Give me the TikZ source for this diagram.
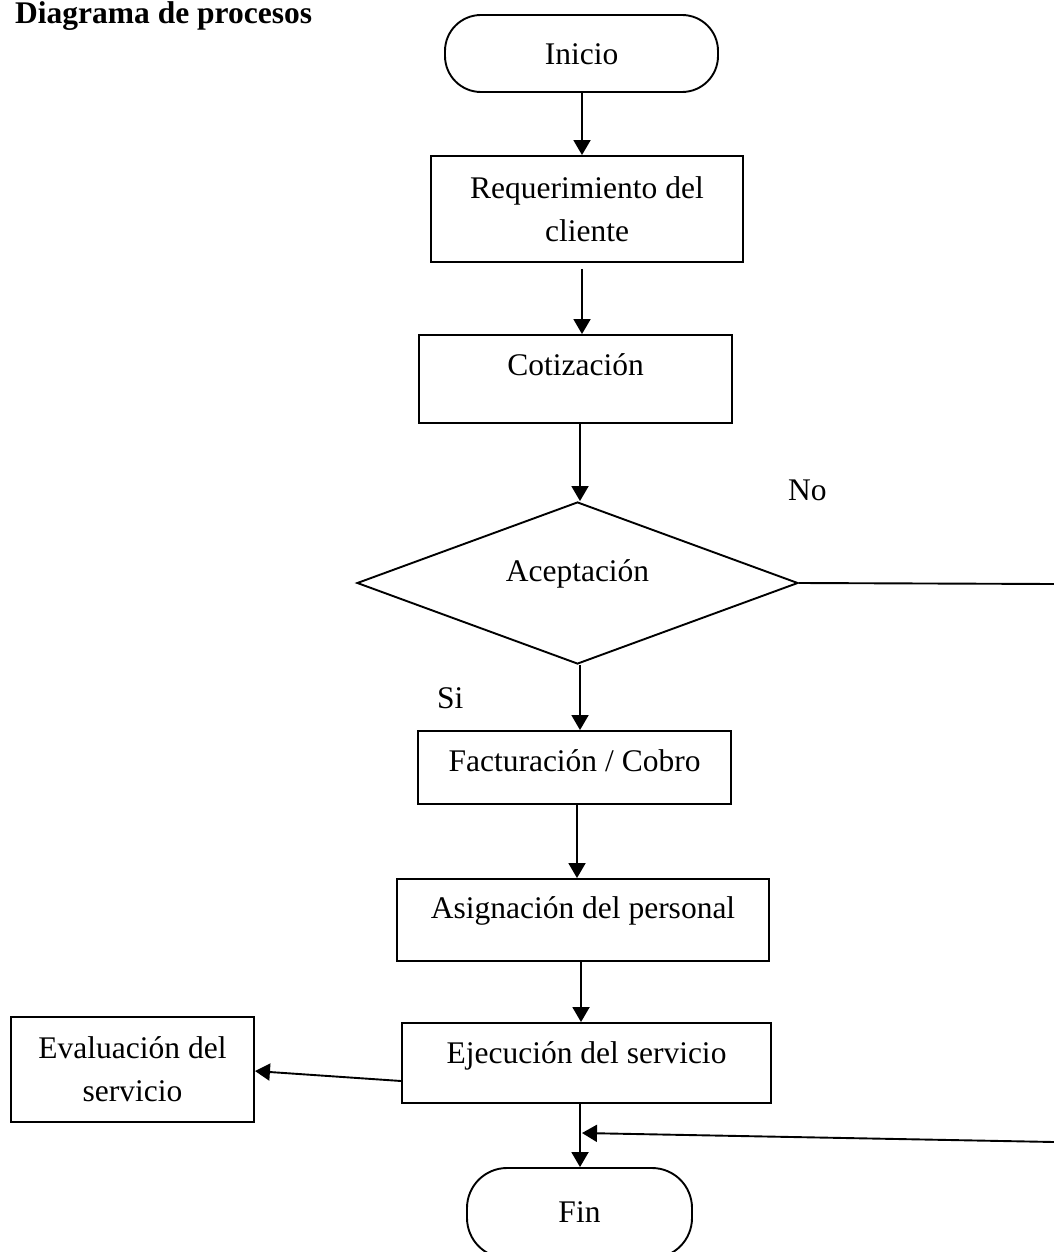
\documentclass[tikz,border=0pt]{standalone}
\usepackage{fontspec}
\setmainfont{Liberation Serif}
\usetikzlibrary{arrows.meta,shapes.geometric}
\begin{document}
\begin{tikzpicture}[x=1pt,y=-1pt,
  every node/.style={font=\fontsize{31.5}{43}\selectfont, inner sep=0pt},
  stepbox/.style={draw, line width=1.9pt, align=center},
  term/.style={draw, line width=1.9pt, rounded corners=36pt},
  decision/.style={diamond, draw, line width=1.9pt, aspect=2.7},
  arr/.style={line width=1.9pt, -{Triangle[length=15pt,width=17pt]}},
  link/.style={line width=1.9pt}]
\useasboundingbox (0,0) rectangle (1054,1252);

% title and labels
\node[font=\fontsize{31.5}{38}\selectfont\bfseries, anchor=base west] (title) at (15,24) {Diagrama de procesos};
\node[anchor=base west] (no) at (788,500) {No};
\node[anchor=base west] (si) at (437,708) {Si};

% nodes
\node[term, minimum width=273pt, text height=50pt, text depth=27pt, anchor=base] (ini) at (581.5,65) {Inicio};
\node[stepbox, minimum width=312pt, minimum height=106pt] (req) at (587,209) {Requerimiento del\\cliente};
\node[stepbox, minimum width=313pt, text height=40pt, text depth=48pt, anchor=base] (cot) at (575.5,375) {Cotización};
\node[decision, minimum width=441pt, minimum height=162pt, text height=20pt, text depth=24pt] (dia) at (577.5,583) {Aceptación};
\node[stepbox, minimum width=313pt, text height=40pt, text depth=33pt, anchor=base] (fac) at (574.5,771) {Facturación / Cobro};
\node[stepbox, minimum width=372pt, text height=39pt, text depth=43pt, anchor=base] (asi) at (583,918) {Asignación del personal};
\node[stepbox, minimum width=369pt, text height=40pt, text depth=40pt, anchor=base] (eje) at (586.5,1063) {Ejecución del servicio};
\node[stepbox, minimum width=243pt, minimum height=105pt] (eva) at (132.5,1069.5) {Evaluación del\\servicio};
\node[term, rounded corners=40pt, minimum width=225pt, text height=54pt, text depth=36pt, anchor=base] (fin) at (579.5,1222) {Fin};

% helper coordinates
\coordinate (x1) at (582,0);
\coordinate (x2) at (580,0);
\coordinate (x3) at (577,0);
\coordinate (x4) at (581,0);
\coordinate (rtop) at (1054,584);
\coordinate (rbot) at (1054,1142);
\coordinate (join) at (582,1133);

% connectors
\draw[arr] (ini.south -| x1) -- (req.north -| x1);
\draw[arr, shorten <=6pt] (req.south -| x1) -- (cot.north -| x1);
\draw[arr] (cot.south -| x2) -- (dia.north -| x2);
\draw[arr] (dia.south -| x2) -- (fac.north -| x2);
\draw[arr] (fac.south -| x3) -- (asi.north -| x3);
\draw[arr] (asi.south -| x4) -- (eje.north -| x4);
\draw[arr] (eje.south -| x2) -- (fin.north -| x2);
\draw[arr] ([yshift=-18pt]eje.west) -- ([yshift=-1.5pt]eva.east);
\draw[link] (dia.east) -- (rtop);
\draw[arr] (rbot) -- (join);
\end{tikzpicture}
\end{document}
